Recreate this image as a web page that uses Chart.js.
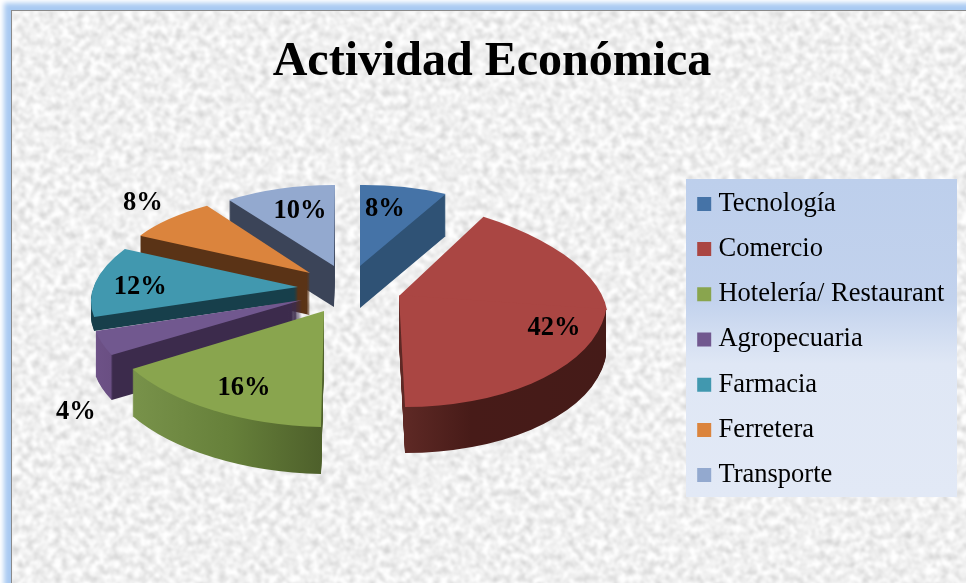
<!DOCTYPE html>
<html lang="es">
<head>
<meta charset="utf-8">
<title>Actividad Económica</title>
<script src="https://cdn.jsdelivr.net/npm/chart.js@4"></script>
<style>
html,body{margin:0;padding:0;width:966px;height:583px;overflow:hidden;background:#fff}
#frame{position:absolute;left:11px;top:10px;width:1000px;height:620px;border:1.5px solid #8a8a8a;box-shadow:0 0 5px 7px #a9caf2;overflow:hidden;background:#eee}
#tex{position:absolute;left:0;top:0}
#c{position:absolute;left:0;top:0}
</style>
</head>
<body>
<div id="frame"><svg id="tex" width="1000" height="620" xmlns="http://www.w3.org/2000/svg">
<filter id="n" x="0" y="0" width="100%" height="100%" color-interpolation-filters="sRGB">
<feTurbulence type="fractalNoise" baseFrequency="0.14" numOctaves="3" seed="7"/>
<feColorMatrix type="matrix" values="0.3 0 0 0 0.79  0.3 0 0 0 0.79  0.3 0 0 0 0.79  0 0 0 0 1"/>
<feGaussianBlur stdDeviation="0.8"/>
</filter>
<rect width="1000" height="620" filter="url(#n)"/>
</svg></div>
<canvas id="c" width="966" height="583" style="width:966px;height:583px"></canvas>
<script>
const categories = ["Tecnología","Comercio","Hotelería/ Restaurant","Agropecuaria","Farmacia","Ferretera","Transporte"];
const shares = [8,42,16,4,12,8,10];
const topColors = ["#4573a7","#aa4643","#89a54e","#71588f","#4198af","#db843d","#93a9cf"];
const titleText = "Actividad Económica";

const R0 = 100;
// per-slice tilt transform of the exploded slices (the arcs themselves come from the library)
const placement = [
  {tip:[360,266], rx:178, ry:81,  sh:0,     sk:-.02,  depth:42},
  {tip:[399,296], rx:208, ry:111, sh:.06,   sk:0,     depth:46, top:{rx:208, ry:98, sh:.18, sk:.14}},
  {tip:[324,311], rx:225, ry:116, sh:-.03,  sk:.05,   depth:47},
  {tip:[302,300], rx:208, ry:105, sh:-.275, sk:.015,  depth:45},
  {tip:[298,287], rx:205, ry:92.5,sh:-.29,  sk:-.015, depth:14},
  {tip:[310,273], rx:194.5,ry:81, sh:-.14,  sk:.03,   depth:42},
  {tip:[334,266], rx:180, ry:81,  sh:-.01,  sk:.008,  depth:41}
];
// side-wall shading, stops across the slice's own horizontal extent
const wallStops = [
  [[0,"#2f5275"],[1,"#2f5275"]],
  [[0,"#5e2925"],[.5,"#5e2925"],[.66,"#471b18"],[1,"#451b18"]],
  [[0,"#7b9645"],[.08,"#78924a"],[.3,"#66803a"],[.5,"#4e602b"],[1,"#4e602b"]],
  [[0,"#6f5389"],[.075,"#6a4f83"],[.08,"#3c2b4c"],[1,"#3c2b4c"]],
  [[0,"#173f4b"],[1,"#173f4b"]],
  [[0,"#5a3316"],[1,"#5a3316"]],
  [[0,"#3b4458"],[1,"#3b4458"]]
];
const drawOrder = [6,5,4,3,2,0,1];
const labelUnits = [[.14,-.70],[.745,.29],[-.356,.665],[-1.087,1.067],[-.77,0],[-.859,-.865],[-.189,-.68]];

function plainOpts(bg){return {backgroundColor:bg,borderWidth:0,offset:0,spacing:0,borderAlign:'center',borderRadius:0,circular:true};}
function place(ctx,arc,tip,dy,t){
  ctx.translate(tip[0],tip[1]+dy);
  ctx.transform(t.rx/R0,t.sk,t.sh,t.ry/R0,0,0);
  ctx.translate(-arc.x,-arc.y);
}
function paint(ctx,arc,bg){const o=arc.options;arc.options=plainOpts(bg);arc.draw(ctx);arc.options=o;}
function clipLocal(ctx,arc,above){
  ctx.beginPath();
  if(above)ctx.rect(arc.x-400,arc.y-400,800,400);else ctx.rect(arc.x-400,arc.y-1,800,401);
  ctx.clip();
}
// draw a slice that has separate back and front curvature: keep only the part below the back half's seam
function frontPart(ctx,arc,p,dy,bg){
  ctx.save();
  place(ctx,arc,p.tip,dy,p.top);clipLocal(ctx,arc,false);
  ctx.setTransform(1,0,0,1,0,0);
  place(ctx,arc,p.tip,dy,p);paint(ctx,arc,bg);
  ctx.restore();
}

const pie3d = {
  id:'pie3d',
  beforeDraw(chart){
    const ctx=chart.ctx;
    const g=ctx.createLinearGradient(0,179,0,497);
    g.addColorStop(0,"#bdcfec");g.addColorStop(.38,"#c2d2ed");g.addColorStop(.58,"#dfe7f5");g.addColorStop(1,"#e2e9f6");
    ctx.save();ctx.fillStyle=g;ctx.fillRect(686,179,271,318);ctx.restore();
  },
  afterLayout(chart){
    chart.titleBlock.left=18;chart.titleBlock.right=966;
    chart.legend.left=684.5;chart.legend.right=966;chart.legend.top=150;chart.legend.bottom=529;
  },
  beforeDatasetDraw(chart,args){
    const ctx=chart.ctx, arcs=chart.getDatasetMeta(args.index).data;
    drawOrder.forEach(i=>{
      const arc=arcs[i],p=placement[i];
      const grad=ctx.createLinearGradient(arc.x-R0,0,arc.x+R0,0);
      wallStops[i].forEach(s=>grad.addColorStop(s[0],s[1]));
      for(let d=p.depth;d>=1;d--){
        if(p.top){frontPart(ctx,arc,p,d,grad);continue;}
        ctx.save();place(ctx,arc,p.tip,d,p);paint(ctx,arc,grad);ctx.restore();
      }
      if(p.top){
        ctx.save();place(ctx,arc,p.tip,0,p.top);clipLocal(ctx,arc,true);paint(ctx,arc,topColors[i]);ctx.restore();
        frontPart(ctx,arc,p,0,topColors[i]);
      }else{
        ctx.save();place(ctx,arc,p.tip,0,p);paint(ctx,arc,topColors[i]);ctx.restore();
      }
    });
    return false;
  },
  afterDatasetsDraw(chart){
    const ctx=chart.ctx;
    ctx.save();
    ctx.font="bold 26.5px 'Liberation Serif'";ctx.fillStyle="#000";ctx.textAlign="center";ctx.textBaseline="middle";
    shares.forEach((v,i)=>{
      const p=placement[i],u=labelUnits[i];
      ctx.fillText(v+"%",p.tip[0]+u[0]*p.rx,p.tip[1]+u[1]*p.ry);
    });
    ctx.restore();
  }
};

new Chart(document.getElementById('c'),{
  type:'pie',
  data:{labels:categories,datasets:[{data:shares,backgroundColor:topColors,borderWidth:0,radius:R0}]},
  plugins:[pie3d],
  options:{
    responsive:false,animation:false,
    plugins:{
      tooltip:{enabled:false},
      title:{display:true,text:titleText,color:"#000",font:{family:"'Liberation Serif'",size:48,weight:'bold'},padding:{top:34,bottom:20}},
      legend:{
        position:'right',
        labels:{
          color:"#111",font:{family:"'Liberation Serif'",size:26.5},padding:18.7,boxWidth:2,boxHeight:2,
          generateLabels(chart){
            return categories.map((t,i)=>({text:t,fillStyle:topColors[i],strokeStyle:topColors[i],lineWidth:12,hidden:false,index:i}));
          }
        }
      }
    }
  }
});
</script>
</body>
</html>
